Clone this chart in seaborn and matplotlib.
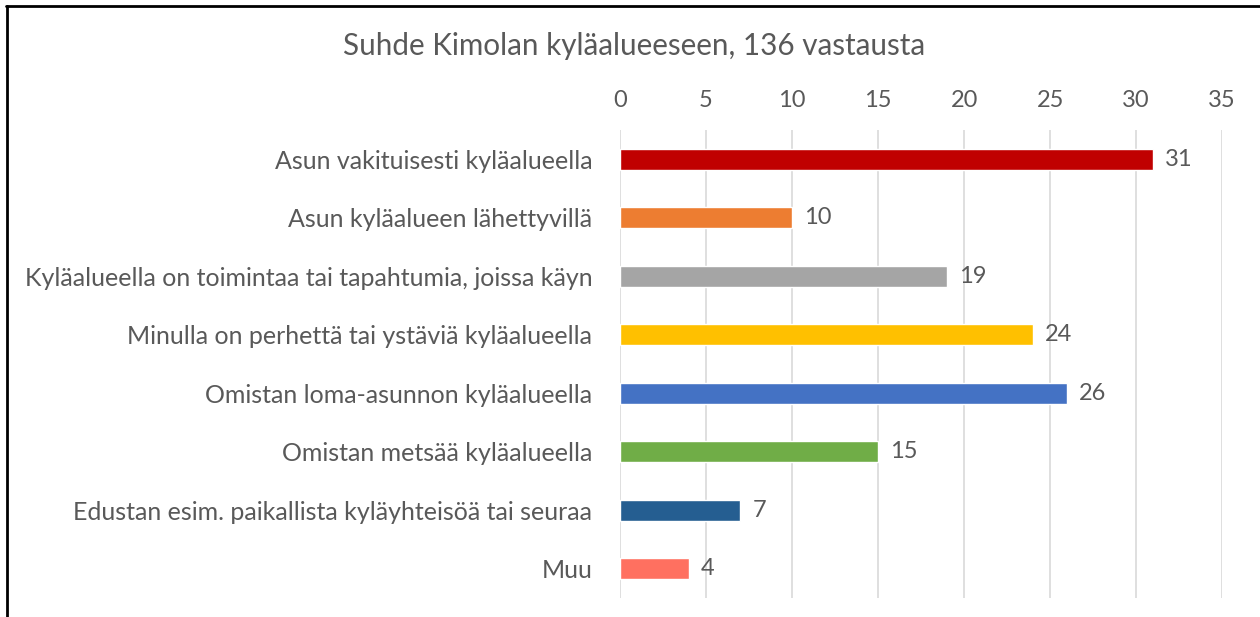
import numpy as np
import matplotlib.pyplot as plt
import pandas as pd
import seaborn as sns

categories = ["Asun vakituisesti kyläalueella",
              "Asun kyläalueen lähettyvillä",
              "Kyläalueella on toimintaa tai tapahtumia, joissa käyn",
              "Minulla on perhettä tai ystäviä kyläalueella",
              "Omistan loma-asunnon kyläalueella",
              "Omistan metsää kyläalueella",
              "Edustan esim. paikallista kyläyhteisöä tai seuraa",
              "Muu"]
counts = [31, 10, 19, 24, 26, 15, 7, 4]
colors = ["#C00000", "#ED7D31", "#A5A5A5", "#FFC000",
          "#4472C4", "#70AD47", "#255E91", "#FF7060"]
title = "Suhde Kimolan kyläalueeseen, 136 vastausta"

df = pd.DataFrame({"cat": categories, "n": counts})

sns.set_style("white")
plt.rcParams['font.family'] = ['Lato', 'DejaVu Sans']
txt = "#595959"

fig = plt.figure(figsize=(12.6, 6.17), dpi=100)
ax = fig.add_axes([0.492, 0.0308, 0.478, 0.7585])
sns.barplot(data=df, y="cat", x="n", hue="cat", palette=colors, saturation=1,
            legend=False, width=0.36, orient="h", ax=ax)

ax.set_xlim(0, 35)
ax.set_ylim(7.5, -0.5)
ax.set_xticks(range(0, 36, 5))
ax.xaxis.tick_top()
ax.grid(axis="x", color="#D9D9D9", linewidth=1.2)
ax.set_axisbelow(True)
for s in ax.spines.values():
    s.set_visible(False)
ax.tick_params(axis="both", length=0, labelcolor=txt)
ax.tick_params(axis="x", pad=14, labelsize=17)
ax.tick_params(axis="y", pad=20, labelsize=18)
ax.set_xlabel("")
ax.set_ylabel("")

for i, v in enumerate(counts):
    ax.text(v + 0.7, i, str(v), va="center", ha="left", fontsize=17, color=txt)

fig.text(0.503, 0.925, title, ha="center", va="center", fontsize=21.3, color=txt)

# frame lines (top and left)
fig.add_artist(plt.Line2D([0.0048, 1.0], [0.990, 0.990], color="black", linewidth=2))
fig.add_artist(plt.Line2D([0.0056, 0.0056], [0.0, 0.990], color="black", linewidth=2))

fig.savefig("out.png", dpi=100)
